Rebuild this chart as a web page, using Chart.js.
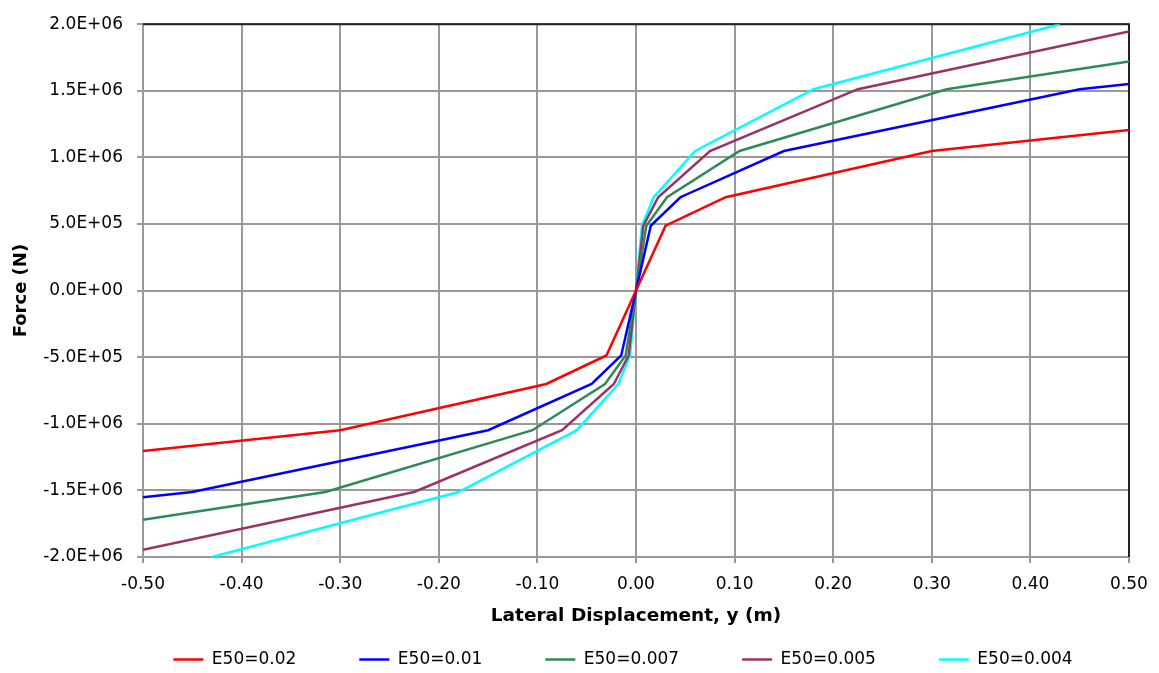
<!DOCTYPE html>
<html lang="en">
<head>
<meta charset="UTF-8">
<title>p-y curves</title>
<script src="https://cdn.jsdelivr.net/npm/chart.js"></script>
<style>
  body { margin: 0; background: #fff; }
  canvas { display: block; }
</style>
</head>
<body>
<canvas id="chart" width="1159" height="673"></canvas>
<script>
// values
const dispE002 = [-0.5, -0.3, -0.091, -0.03, 0, 0.03, 0.091, 0.3, 0.5];
const forceE002 = [-1.205e6, -1.048e6, -7.01e5, -4.87e5, 0, 4.87e5, 7.01e5, 1.048e6, 1.205e6];

const dispE001 = [-0.5, -0.45, -0.15, -0.045, -0.015, 0, 0.015, 0.045, 0.15, 0.45, 0.5];
const forceE001 = [-1.552e6, -1.512e6, -1.048e6, -7.01e5, -4.87e5, 0, 4.87e5, 7.01e5, 1.048e6, 1.512e6, 1.552e6];

const dispE0007 = [-0.5, -0.315, -0.105, -0.0315, -0.0105, 0, 0.0105, 0.0315, 0.105, 0.315, 0.5];
const forceE0007 = [-1.72e6, -1.512e6, -1.048e6, -7.01e5, -4.87e5, 0, 4.87e5, 7.01e5, 1.048e6, 1.512e6, 1.72e6];

const dispE0005 = [-0.5, -0.225, -0.075, -0.0225, -0.0075, 0, 0.0075, 0.0225, 0.075, 0.225, 0.5];
const forceE0005 = [-1.945e6, -1.512e6, -1.048e6, -7.01e5, -4.87e5, 0, 4.87e5, 7.01e5, 1.048e6, 1.512e6, 1.945e6];

const dispE0004 = [-0.43, -0.18, -0.06, -0.018, -0.006, 0, 0.006, 0.018, 0.06, 0.18, 0.43];
const forceE0004 = [-2.0e6, -1.512e6, -1.048e6, -7.01e5, -4.87e5, 0, 4.87e5, 7.01e5, 1.048e6, 1.512e6, 2.0e6];

const seriesLabels = ['E50=0.02', 'E50=0.01', 'E50=0.007', 'E50=0.005', 'E50=0.004'];
const seriesColors = ['#FF0000', '#0000FF', '#2E8B57', '#993366', '#00FFFF'];
const seriesDisp = [dispE002, dispE001, dispE0007, dispE0005, dispE0004];
const seriesForce = [forceE002, forceE001, forceE0007, forceE0005, forceE0004];

const FONT = "'DejaVu Sans', Verdana, sans-serif";

function toPoints(xs, ys) {
  return xs.map((x, i) => ({ x: x, y: ys[i] }));
}

function sciLabel(v) {
  if (Math.abs(v) < 1e-6) return '0.0E+00';
  const e = Math.floor(Math.log10(Math.abs(v)) + 1e-9);
  const m = v / Math.pow(10, e);
  return m.toFixed(1) + 'E+' + String(e).padStart(2, '0');
}

// black frame on top and right edges of the plot area
const frameEdges = {
  id: 'frameEdges',
  beforeDatasetsDraw(chart) {
    const { ctx, chartArea: a } = chart;
    ctx.save();
    ctx.strokeStyle = '#222';
    ctx.lineWidth = 2;
    ctx.beginPath();
    ctx.moveTo(a.left, a.top);
    ctx.lineTo(a.right, a.top);
    ctx.lineTo(a.right, a.bottom);
    ctx.stroke();
    ctx.restore();
  }
};

const datasets = seriesLabels.map((label, i) => ({
  label: label,
  data: toPoints(seriesDisp[i], seriesForce[i]),
  borderColor: seriesColors[i],
  backgroundColor: seriesColors[i],
  borderWidth: 2.5,
  showLine: true,
  pointRadius: 0,
  tension: 0
}));

new Chart(document.getElementById('chart'), {
  type: 'scatter',
  data: { datasets: datasets },
  plugins: [frameEdges],
  options: {
    responsive: false,
    animation: false,
    // negative right padding moves the legend centre right, like the original
    layout: { padding: { left: 43, right: -44, top: 22, bottom: -5 } },
    plugins: {
      tooltip: { enabled: false },
      legend: {
        position: 'bottom',
        labels: {
          usePointStyle: true,
          pointStyle: 'line',
          pointStyleWidth: 30,
          padding: 63,
          color: '#000',
          font: { family: FONT, size: 17 }
        }
      }
    },
    scales: {
      x: {
        type: 'linear',
        min: -0.5,
        max: 0.5,
        afterFit(scale) { scale.height = 31; },
        ticks: {
          stepSize: 0.1,
          color: '#000',
          // mirror + negative padding: labels sit below the axis but are not clipped
          mirror: true,
          padding: -38,
          font: { family: FONT, size: 17 },
          callback: v => (Math.abs(v) < 1e-9 ? 0 : v).toFixed(2)
        },
        grid: { color: '#999', lineWidth: 2, tickLength: 6 },
        border: { color: '#999', width: 2 },
        title: {
          display: true,
          text: 'Lateral Displacement, y (m)',
          color: '#000',
          font: { family: FONT, size: 18.5, weight: 'bold' },
          padding: { top: 0, bottom: -39 }
        }
      },
      y: {
        type: 'linear',
        min: -2e6,
        max: 2e6,
        afterFit(scale) { scale.width = 100; },
        ticks: {
          stepSize: 5e5,
          color: '#000',
          padding: 14,
          font: { family: FONT, size: 17 },
          callback: v => sciLabel(v)
        },
        grid: { color: '#999', lineWidth: 2, tickLength: 6 },
        border: { color: '#999', width: 2 },
        title: {
          display: true,
          text: 'Force (N)',
          color: '#000',
          font: { family: FONT, size: 18, weight: 'bold' },
          padding: { top: -32, bottom: 0 }
        }
      },
      // empty right-hand scale, only reserves the right margin
      yRight: {
        type: 'linear',
        position: 'right',
        min: -2e6,
        max: 2e6,
        afterFit(scale) { scale.width = 74; },
        ticks: { display: false },
        grid: { display: false },
        border: { display: false }
      }
    }
  }
});
</script>
</body>
</html>
